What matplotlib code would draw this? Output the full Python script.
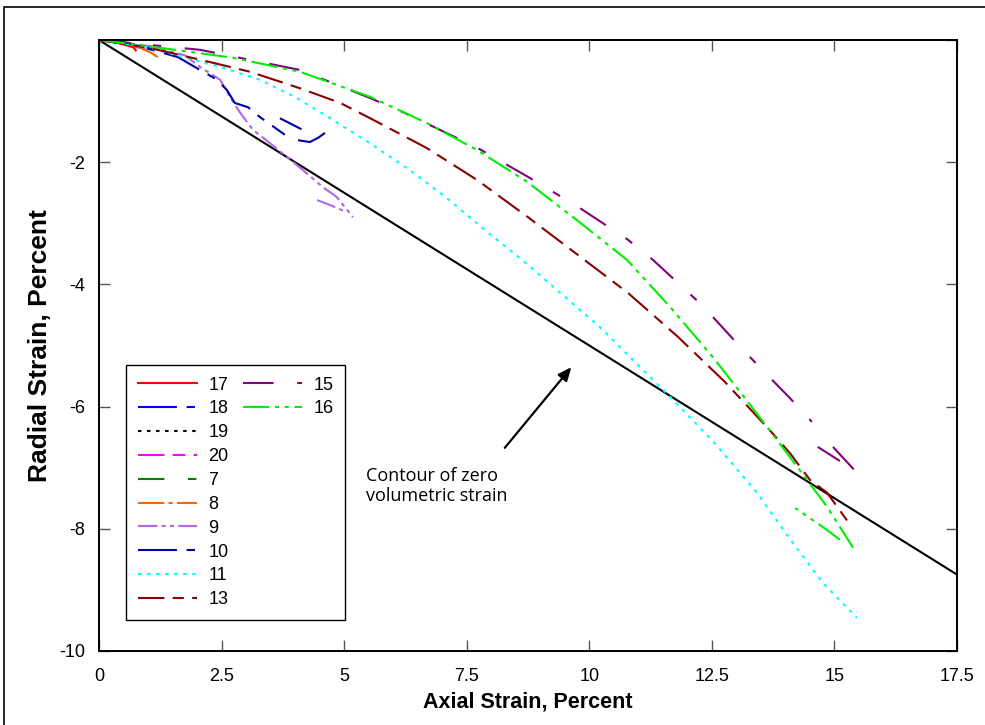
import numpy as np
import matplotlib.pyplot as plt
from matplotlib.lines import Line2D
from matplotlib.patches import Rectangle

plt.rcParams['font.family'] = ['Liberation Sans', 'DejaVu Sans']
plt.rcParams['lines.scale_dashes'] = False
nan = np.nan

# test curves: axial strain (x) and radial strain (y), percent
x17 = [0, 0.4, 0.7, 0.75]
y17 = [0, -0.05, -0.12, -0.17]
x18 = [0, 0.5, 0.9, 1.1]
y18 = [0, -0.05, -0.10, -0.14]
x19 = [0, 0.3, 0.6]
y19 = [0, -0.02, -0.05]
x20 = [0, 0.5, 0.8, 1.0]
y20 = [0, -0.06, -0.12, -0.15]
x7 = [0, 0.8, 1.2]
y7 = [0, -0.08, -0.15]
x8 = [0, 0.6, 1.04, 1.2]
y8 = [0, -0.04, -0.20, -0.28]
x9 = [0, 1.04, 1.75, 2.06, 2.47, 2.67, 2.88, 3.14, 3.49, 3.83, 4.16, 4.57, 4.85, 5.18, nan, 4.45, 4.71, 5.0]
y9 = [0, -0.10, -0.25, -0.44, -0.65, -0.93, -1.19, -1.47, -1.69, -1.91, -2.13, -2.41, -2.57, -2.90, nan, -2.62, -2.70, -2.80]
x10 = [0, 0.59, 1.61, 2.06, 2.41, 2.61, 2.77, 3.04, 3.28, 3.79, nan, 3.69, 4.13, nan, 4.06, 4.30, 4.47, 4.61]
y10 = [0, -0.05, -0.28, -0.49, -0.65, -0.82, -1.03, -1.10, -1.26, -1.55, nan, -1.28, -1.46, nan, -1.64, -1.67, -1.60, -1.52]
x11 = [0, 0.88, 2.47, 3.28, 4.04, 4.77, 5.53, 6.34, 7.10, 7.87, 8.63, 10.22, 10.93, 11.65, 12.56, 13.42, 14.15, 14.77, 15.46]
y11 = [0, -0.10, -0.44, -0.65, -0.95, -1.31, -1.69, -2.13, -2.59, -3.11, -3.60, -4.70, -5.27, -5.84, -6.60, -7.41, -8.23, -8.89, -9.46]
x13 = [0, 1.04, 2.26, 3.08, 4.10, 4.92, 5.53, 6.69, 7.71, 8.75, 9.77, 10.79, 11.81, 12.77, 13.64, 14.09, 14.50, 14.85, 15.28]
y13 = [0, -0.13, -0.36, -0.52, -0.79, -1.03, -1.28, -1.77, -2.29, -2.90, -3.52, -4.14, -4.86, -5.60, -6.35, -6.76, -7.20, -7.41, -7.89]
x15 = [0, 2.06, 4.10, 5.53, 6.20, 7.73, 8.75, 9.77, 10.79, 11.30, 12.30, 13.18, 14.09, 14.54, nan, 14.66, 15.11, nan, 14.97, 15.42]
y15 = [0, -0.16, -0.49, -0.95, -1.18, -1.77, -2.24, -2.73, -3.27, -3.60, -4.34, -5.11, -5.86, -6.25, nan, -6.66, -6.89, nan, -6.66, -7.05]
x16 = [0, 1.55, 2.73, 4.10, 5.53, 6.69, 7.71, 8.73, 9.75, 10.77, 11.65, 12.52, 13.28, 14.03, 14.85, 15.38, nan, 15.11, 14.85, 14.20]
y16 = [0, -0.16, -0.29, -0.52, -0.93, -1.36, -1.80, -2.32, -2.95, -3.60, -4.37, -5.19, -5.97, -6.76, -7.64, -8.31, nan, -8.18, -8.02, -7.66]

# zero volumetric strain: radial = -axial / 2
x_zero = [0, 17.5]
y_zero = [0, -8.75]

fig = plt.figure(figsize=(9.85, 7.25), dpi=100)
ax = fig.add_axes([0.1005, 0.1021, 0.8711, 0.8427])

lw = 1.5
ax.plot(x_zero, y_zero, color='black', lw=1.5)
ax.plot(x17, y17, color='red', lw=lw, ls='-', label='17')
ax.plot(x18, y18, color='blue', lw=lw, ls=(0, (28, 7, 6, 7)), label='18')
ax.plot(x19, y19, color='black', lw=lw, ls=(0, (2.5, 4)), label='19')
ax.plot(x20, y20, color='magenta', lw=lw, ls=(0, (19, 6, 9, 6)), label='20')
ax.plot(x7, y7, color='green', lw=lw, ls=(0, (19, 17, 6, 17)), label='7')
ax.plot(x8, y8, color='#ff6600', lw=lw, ls=(0, (19, 3, 3, 3)), label='8')
ax.plot(x9, y9, color='#b366e6', lw=lw, ls=(0, (14, 3, 3, 3, 3, 3)), label='9')
ax.plot(x10, y10, color='#0000a8', lw=lw, ls=(0, (28, 7, 6, 7)), label='10')
ax.plot(x11, y11, color='cyan', lw=lw, ls=(0, (2.5, 4)), label='11')
ax.plot(x13, y13, color='#8b0000', lw=lw, ls=(0, (19, 6, 8, 6)), label='13')
ax.plot(x15, y15, color='#800080', lw=lw, ls=(0, (22, 17, 6, 17)), label='15')
ax.plot(x16, y16, color='#00ee00', lw=lw, ls=(0, (19, 4, 3, 4, 3, 4)), label='16')

ax.set_xlim(0, 17.5)
ax.set_ylim(-10, 0)
ax.set_xticks([0, 2.5, 5, 7.5, 10, 12.5, 15, 17.5])
ax.set_xticklabels(['0', '2.5', '5', '7.5', '10', '12.5', '15', '17.5'])
ax.set_yticks([-10, -8, -6, -4, -2, 0])
ax.set_yticklabels(['-10', '-8', '-6', '-4', '-2', ''])
ax.tick_params(direction='in', length=8, width=1, top=True, right=True,
               labelsize=13, color='#555555')
ax.tick_params(axis='x', pad=12)
ax.tick_params(axis='y', pad=10)
for s in ax.spines.values():
    s.set_linewidth(1.4)

ax.set_xlabel('Axial Strain, Percent', fontsize=15.5, fontweight='bold', labelpad=5)
ax.set_ylabel('Radial Strain, Percent', fontsize=19, fontweight='bold', labelpad=5)

# legend: 10 entries in first column, 2 in second
handles, labels = ax.get_legend_handles_labels()
blank = Line2D([], [], color='none')
handles = handles + [blank] * 8
labels = labels + [''] * 8
leg = ax.legend(handles, labels, ncol=2, loc='lower left',
                bbox_to_anchor=(0.0315, 0.0507), borderaxespad=0,
                fontsize=13, handlelength=3.3,
                labelspacing=0.38, columnspacing=0.8, handletextpad=0.6,
                fancybox=False, framealpha=1, edgecolor='black',
                borderpad=0.65)
leg.get_frame().set_linewidth(1.0)

ax.text(5.45, -7.30, 'Contour of zero\nvolumetric strain', fontsize=13,
        ha='left', va='center', family=['Open Sans', 'DejaVu Sans'],
        linespacing=1.2)
ax.annotate('', xy=(9.67, -5.32), xytext=(8.24, -6.71),
            arrowprops=dict(arrowstyle='-|>,head_length=0.8,head_width=0.35',
                            color='black', lw=1.6))

# outer frame
fig.patches.append(Rectangle((4 / 985, -0.02), 1.2, 1.02 - 7 / 725,
                             transform=fig.transFigure, fill=False,
                             edgecolor='black', lw=1.2, clip_on=False))

fig.savefig('out.png', dpi=100)
